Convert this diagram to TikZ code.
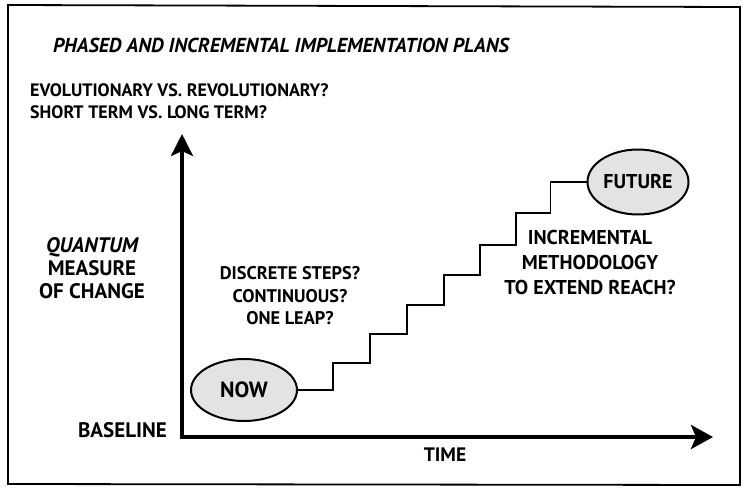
\documentclass[tikz,border=0pt]{standalone}
\usepackage{fontspec}
\setmainfont{PT Sans}
\usetikzlibrary{arrows.meta,shapes.geometric,calc}
\newcommand{\fsz}[2]{\fontsize{#1}{#2}\selectfont}
\begin{document}
\begin{tikzpicture}[x=1pt,y=-1pt,
  frame/.style={draw=black,line width=1.8pt},
  axis/.style={line width=4pt,line join=miter,{Stealth[length=22pt,width=22pt,inset=5pt]}-{Stealth[length=22pt,width=24pt,inset=5pt]}},
  stairs/.style={line width=1.8pt,line join=miter},
  blob/.style={ellipse,draw=black,line width=2pt,fill=gray!22,minimum width=#1,inner sep=0pt},
  lbl/.style={font=\bfseries,align=center,inner sep=0pt},
]
\useasboundingbox (0,0) rectangle (744,488);
\draw[frame] (8,5) -- (740,7) -- (740,485) -- (8,484) -- cycle;
\node[font=\bfseries\itshape\fsz{20.2}{22},inner sep=0pt] (title) at (281,45) {PHASED AND INCREMENTAL IMPLEMENTATION PLANS};
\node[font=\bfseries\fsz{18}{22.5},anchor=west,align=left,inner sep=0pt] (q) at (30,101) {EVOLUTIONARY VS. REVOLUTIONARY?\\SHORT TERM VS. LONG TERM?};
\coordinate (o) at (182,437);
\coordinate (ytip) at (182,134);
\coordinate (xtip) at (713,437);
\draw[axis] (ytip) -- (o) -- (xtip);
\node[lbl,font=\bfseries\fsz{21}{23}] (yl) at (92,268) {\itshape QUANTUM\\MEASURE\\OF CHANGE};
\node[lbl,font=\bfseries\fsz{21}{23},anchor=east] (base) at (167,430) {BASELINE};
\node[lbl,font=\bfseries\fsz{19.5}{23}] (time) at (445,455) {TIME};
\node[lbl,font=\bfseries\fsz{18.3}{22.5}] (disc) at (290,296) {DISCRETE STEPS?\\CONTINUOUS?\\ONE LEAP?};
\node[lbl,font=\bfseries\fsz{20}{25}] (inc) at (590,262) {INCREMENTAL\\METHODOLOGY\\TO EXTEND REACH?};
\node[blob=106pt,minimum height=62pt,font=\bfseries\fsz{22}{24}] (now) at (244,390) {NOW};
\node[blob=101pt,minimum height=65pt,font=\bfseries\fsz{20}{22}] (future) at (638,182) {FUTURE};
\draw[stairs] (now.east) -| (333,363) -| (370,334) -| (407,305) -| (444,275) -| (480,245) -| (516,213) -| ($(future.west)+(-36,0)$) -- (future.west);
\end{tikzpicture}
\end{document}
